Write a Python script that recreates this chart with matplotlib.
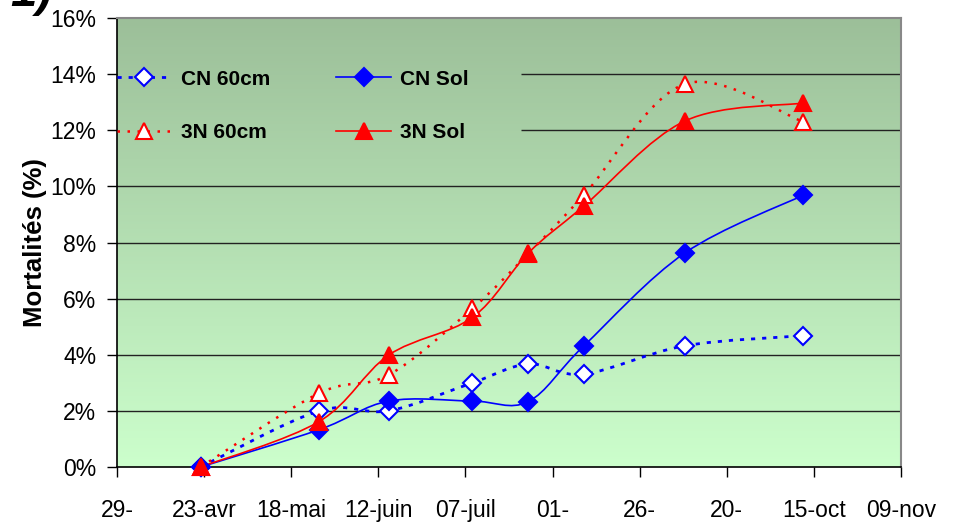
import numpy as np
import pandas as pd
import matplotlib
matplotlib.use('Agg')
import matplotlib.pyplot as plt
import matplotlib.dates as mdates
from matplotlib.path import Path
from matplotlib.patches import PathPatch
from matplotlib.lines import Line2D
from matplotlib.colors import LinearSegmentedColormap

plt.rcParams['font.family'] = ['Liberation Sans', 'DejaVu Sans']

# sampling dates and mortality (%)
dates = ['2005-04-22', '2005-05-26', '2005-06-15', '2005-07-09',
         '2005-07-25', '2005-08-10', '2005-09-08', '2005-10-12']
cn_60 = [0.0, 2.0, 2.0, 3.0, 3.67, 3.31, 4.32, 4.68]
cn_sol = [0.0, 1.33, 2.35, 2.35, 2.33, 4.32, 7.63, 9.69]
n3_60 = [0.0, 2.63, 3.28, 5.65, 7.6, 9.69, 13.65, 12.3]
n3_sol = [0.0, 1.62, 3.99, 5.33, 7.62, 9.3, 12.33, 12.97]

tick_dates = pd.date_range('2005-03-29', '2005-11-09', freq='25D')
tick_labels = ['29-', '23-avr', '18-mai', '12-juin', '07-juil',
               '01-', '26-', '20-', '15-oct', '09-nov']


def smooth_path(x, y):
    # excel-like smoothed line: cubic bezier, catmull-rom tangents
    p = np.column_stack([x, y])
    ext = np.vstack([p[0], p, p[-1]])
    verts = [p[0]]
    codes = [Path.MOVETO]
    for i in range(len(p) - 1):
        a, b, c, d = ext[i], ext[i + 1], ext[i + 2], ext[i + 3]
        verts += [b + (c - a) / 6, c - (d - b) / 6, c]
        codes += [Path.CURVE4] * 3
    return Path(verts, codes)


x = mdates.date2num(pd.to_datetime(dates))

fig = plt.figure(figsize=(9.54, 5.23), dpi=100)
ax = fig.add_axes([117/954, 1-467/523, 784/954, 449/523])

# background gradient
cmap = LinearSegmentedColormap.from_list('g', ['#CCFFCC', '#9CBF99'])
grad = np.linspace(0, 1, 256).reshape(-1, 1)
ax.imshow(grad, extent=[0, 1, 0, 1], transform=ax.transAxes, cmap=cmap,
          origin='lower', aspect='auto', zorder=0)

x0 = mdates.date2num(pd.Timestamp('2005-03-29'))
x1 = mdates.date2num(pd.Timestamp('2005-11-09'))
ax.set_xlim(x0, x1)
ax.set_ylim(0, 16)

# gridlines (the two top ones are hidden behind the legend on the left)
xg = mdates.date2num(pd.Timestamp('2005-07-23'))
for g in [2, 4, 6, 8, 10]:
    ax.axhline(g, color='#222222', lw=1.0, zorder=1)
for g in [12, 14]:
    ax.hlines(g, xg, x1, color='#222222', lw=1.0, zorder=1)

series = [
    (cn_60, 'CN 60cm', 'blue', (0, (1.5, 2.5)), 2.0, 'D', 'white', 9.5),
    (cn_sol, 'CN Sol', 'blue', '-', 1.2, 'D', 'blue', 9.5),
    (n3_60, '3N 60cm', 'red', (0, (1, 3)), 1.8, '^', 'white', 11.5),
    (n3_sol, '3N Sol', 'red', '-', 1.2, '^', 'red', 11.5),
]
handles = []
for vals, lab, col, ls, lw, mk, fc, ms in series:
    patch = PathPatch(smooth_path(x, np.array(vals)), fill=False, edgecolor=col,
                      lw=lw, linestyle=ls, zorder=3)
    ax.add_patch(patch)
    ax.plot(x, vals, linestyle='none', marker=mk, markersize=ms,
            markerfacecolor=fc, markeredgecolor=col, markeredgewidth=1.5,
            zorder=4, clip_on=False)
    handles.append(Line2D([], [], color=col, lw=lw, linestyle=ls, marker=mk,
                          markersize=ms, markerfacecolor=fc, markeredgecolor=col,
                          markeredgewidth=1.5))

leg = ax.legend([handles[0], handles[2], handles[1], handles[3]],
                ['CN 60cm', '3N 60cm', 'CN Sol', '3N Sol'],
                ncol=2, loc='upper left', bbox_to_anchor=(0.0, 0.885),
                frameon=False, borderaxespad=0, borderpad=0, handlelength=2.6,
                handletextpad=0.45, columnspacing=3.2, labelspacing=1.65,
                numpoints=1, prop={'weight': 'bold', 'size': 15})
leg.set_zorder(5)

ax.set_xticks(mdates.date2num(tick_dates))
ax.set_xticklabels(tick_labels)
ax.set_yticks(np.arange(0, 17, 2))
ax.set_yticklabels(['%d%%' % v for v in range(0, 17, 2)])
ax.tick_params(axis='both', labelsize=16.5, length=7, width=1, direction='out',
               color='black')
ax.tick_params(axis='x', pad=16)
ax.tick_params(axis='y', pad=8)
ax.set_ylabel('Mortalités (%)', fontsize=18.5, fontweight='bold', labelpad=2)

for s in ['left', 'bottom']:
    ax.spines[s].set_color('black')
    ax.spines[s].set_linewidth(1.2)
for s in ['top', 'right']:
    ax.spines[s].set_color('#888888')
    ax.spines[s].set_linewidth(1.5)

fig.text(52/954, 1-6/523, '1)', ha='right', va='baseline', fontsize=34,
         fontweight='bold', style='italic')

plt.savefig('out.png', dpi=100)
plt.close()
